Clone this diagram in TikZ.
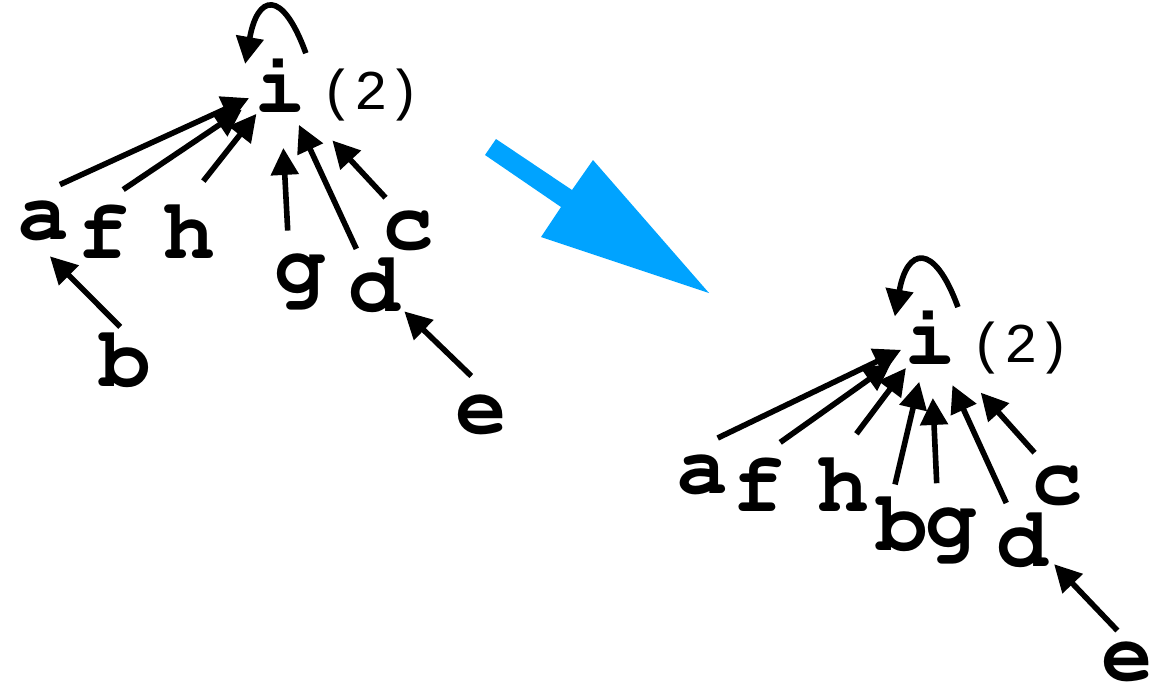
\documentclass[tikz,border=0pt]{standalone}
\usepackage[T1,TU]{fontenc}
\usepackage{fontspec}
\usepackage{tikz}
\usetikzlibrary{arrows.meta,positioning}

\newfontfamily\cntfamily{Liberation Mono}
\newcommand\letterfont{\fontencoding{T1}\fontfamily{pcr}\fontseries{b}\fontsize{86}{90}\selectfont}
\newcommand\cntfont{\cntfamily\fontsize{56}{60}\selectfont}
\definecolor{mergeblue}{RGB}{0,163,255}

\begin{document}
\begin{tikzpicture}[
  x=1pt, y=-1pt,
  letter/.style={circle, inner sep=0pt, minimum size=80pt, font=\letterfont},
  cnt/.style={inner sep=0pt, font=\cntfont},
  arr/.style={-{Triangle[length=27pt,width=27pt]}, line width=5.6pt}
]
\useasboundingbox (0,0) rectangle (1176,697);

% before
\node[letter] (li) at (280,84) {i};
\node[cnt, right=0pt of li, yshift=-11pt] (lcnt) {(2)};
\node[letter] (la) at (43,221) {a};
\node[letter] (lf) at (103,231) {f};
\node[letter] (lh) at (189,231) {h};
\node[letter] (lg) at (300,279) {g};
\node[letter] (ld) at (374,285) {d};
\node[letter] (lc) at (408,231) {c};
\node[letter] (lb) at (125,360) {b};
\node[letter] (le) at (481,415) {e};
\draw[arr, shorten >=34pt] (la.65) -- (li.center);
\draw[arr, shorten <=7pt, shorten >=46pt] (lf.69) -- (li.center);
\draw[arr, shorten <=13pt, shorten >=38pt] (lh.81) -- (li.center);
\draw[arr, shorten <=10pt, shorten >=64pt] (lg.107) -- (li.center);
\draw[arr, shorten >=45pt] (ld.116) -- (li.center);
\draw[arr, shorten >=77pt] (lc.124) -- (li.center);
\draw[arr, shorten <=-8pt, shorten >=-5pt] (lb.105) -- (la.285);
\draw[arr] (le.104) -- (ld.319);
\draw[arr] (li.50) .. controls +(110:70pt) and +(80:70pt) .. (li.150);

% merge arrow
\fill[mergeblue] (496,139) -- (572,190) -- (593,160) -- (709,293) -- (541,237) -- (561,207) -- (485,155) -- cycle;

% after
\node[letter] (ri) at (930,336) {i};
\node[cnt, right=0pt of ri, yshift=-12pt] (rcnt) {(2)};
\node[letter] (ra) at (702,475) {a};
\node[letter] (rf) at (758,484) {f};
\node[letter] (rh) at (843,484) {h};
\node[letter] (rb) at (902,524) {b};
\node[letter] (rg) at (951,533) {g};
\node[letter] (rd) at (1022,540) {d};
\node[letter] (rc) at (1057,486) {c};
\node[letter, minimum size=60pt] (re) at (1127,662) {e};
\draw[arr, shorten >=32pt] (ra.67) -- (ri.center);
\draw[arr, shorten <=8pt, shorten >=48pt] (rf.67) -- (ri.center);
\draw[arr, shorten <=13pt, shorten >=40pt] (rh.82) -- (ri.center);
\draw[arr, shorten >=47pt] (rb.100) -- (ri.center);
\draw[arr, shorten <=12pt, shorten >=62pt] (rg.110) -- (ri.center);
\draw[arr, shorten >=54pt] (rd.113) -- (ri.center);
\draw[arr, shorten >=76pt] (rc.124) -- (ri.center);
\draw[arr] (re.107) -- (rd.323);
\draw[arr] (ri.46) .. controls +(110:70pt) and +(80:70pt) .. (ri.151);
\end{tikzpicture}
\end{document}
